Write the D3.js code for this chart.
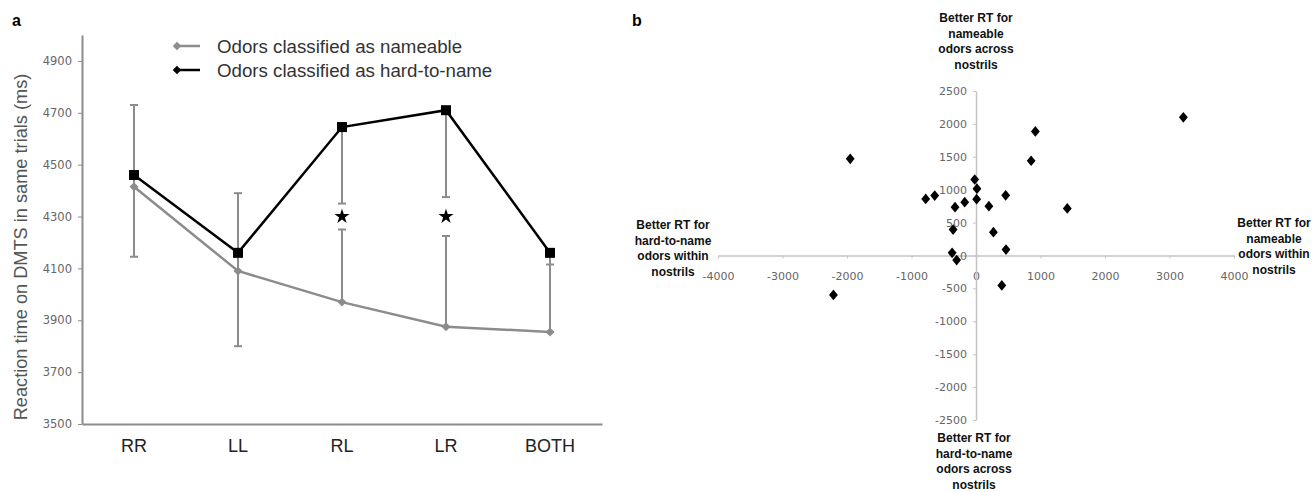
<!DOCTYPE html>
<html lang="en">
<head>
  <meta charset="UTF-8">
  <title>Reaction time chart</title>
  <style>
    body { margin: 0; background: #fff; }
    svg { display: block; font-family: "Liberation Sans", Arial, sans-serif; }
    .tick text.num { font-family: "DejaVu Sans", Verdana, sans-serif; }
  </style>
</head>
<body>
  <svg id="chart" width="1315" height="492"></svg>
  <script src="https://d3js.org/d3.v7.min.js"></script>
  <script>
    // ---- panel a data ----
    var conditions = ["RR", "LL", "RL", "LR", "BOTH"];
    var nameable = [4415, 4090, 3970, 3875, 3855];
    var nameableErr = [315, 300, 280, 350, 260];     // plus bars
    var hardToName = [4460, 4160, 4645, 4710, 4160];
    var hardToNameErr = [315, 360, 295, 335, 305];   // minus bars
    var starConditions = ["RL", "LR"];
    var starValue = 4300;
    var yTicksA = [3500, 3700, 3900, 4100, 4300, 4500, 4700, 4900];
    var legendLabels = ["Odors classified as nameable", "Odors classified as hard-to-name"];

    // ---- panel b data ----
    var withinDiff = [-1950, -2210, -780, -640, -325, -175, -355, -370, -300, -20, 15, 10,
                      200, 270, 460, 465, 400, 855, 920, 1415, 3215];
    var acrossDiff = [1470, -600, 860, 910, 735, 810, 395, 40, -70, 1155, 1015, 855,
                      750, 355, 915, 90, -455, 1440, 1885, 715, 2100];
    var xTicksB = [-4000, -3000, -2000, -1000, 0, 1000, 2000, 3000, 4000];
    var yTicksB = [-2500, -2000, -1500, -1000, -500, 0, 500, 1000, 1500, 2000, 2500];

    var svg = d3.select("#chart");
    var grey = "#8c8c8c";
    var plain = function(d) { return String(d); };   // "-500" with a hyphen, no commas
    var diamond = function(size) { return d3.symbol().type(d3.symbolSquare).size(size); };

    // =================== panel a ===================
    var x = d3.scaleBand().domain(conditions).range([82, 602]);
    var y = d3.scaleLinear().domain([3500, 5000]).range([424, 35]);
    var cx = function(c) { return x(c) + x.bandwidth() / 2; };

    var ga = svg.append("g");

    ga.append("text").attr("x", 12).attr("y", 26)
      .attr("font-size", 16).attr("font-weight", "bold").text("a");

    // y axis
    var yAxis = ga.append("g").attr("transform", "translate(82,0)")
      .call(d3.axisLeft(y).tickValues(yTicksA).tickFormat(plain).tickSize(4).tickPadding(6).tickSizeOuter(0));
    yAxis.select(".domain").attr("stroke", grey).attr("stroke-width", 2);
    yAxis.selectAll(".tick line").attr("stroke", grey);
    yAxis.selectAll(".tick text").classed("num", true)
      .attr("font-size", 11.5).attr("fill", "#666");

    // x axis
    var xAxis = ga.append("g").attr("transform", "translate(0,424)")
      .call(d3.axisBottom(x).tickSize(0).tickPadding(15));
    xAxis.select(".domain").attr("stroke", grey).attr("stroke-width", 2);
    xAxis.selectAll(".tick text").attr("font-size", 18).attr("fill", "#222")
      .attr("font-family", "'Liberation Sans', Arial, sans-serif");

    ga.append("text")
      .attr("transform", "translate(27,247) rotate(-90)")
      .attr("text-anchor", "middle").attr("font-size", 18.2).attr("fill", "#555")
      .text("Reaction time on DMTS in same trials (ms)");

    // error bars
    function errBars(vals, errs, sign) {
      var g = ga.append("g").attr("stroke", grey).attr("stroke-width", 2);
      conditions.forEach(function(c, i) {
        var end = vals[i] + sign * errs[i];
        g.append("line").attr("x1", cx(c)).attr("x2", cx(c))
          .attr("y1", y(vals[i])).attr("y2", y(end));
        g.append("line").attr("x1", cx(c) - 4).attr("x2", cx(c) + 4)
          .attr("y1", y(end)).attr("y2", y(end));
      });
    }
    errBars(nameable, nameableErr, 1);
    errBars(hardToName, hardToNameErr, -1);

    // stars
    ga.selectAll("path.star").data(starConditions).enter().append("path")
      .attr("class", "star")
      .attr("d", d3.symbol().type(d3.symbolStar).size(70))
      .attr("transform", function(c) { return "translate(" + cx(c) + "," + y(starValue) + ")"; })
      .attr("fill", "#000");

    var line = d3.line()
      .x(function(d, i) { return cx(conditions[i]); })
      .y(function(d) { return y(d); });

    ga.append("path").datum(nameable).attr("d", line)
      .attr("fill", "none").attr("stroke", grey).attr("stroke-width", 2.5);
    ga.append("path").datum(hardToName).attr("d", line)
      .attr("fill", "none").attr("stroke", "#000").attr("stroke-width", 2.5);

    ga.selectAll("path.dia").data(nameable).enter().append("path")
      .attr("class", "dia")
      .attr("d", diamond(40))
      .attr("transform", function(d, i) { return "translate(" + cx(conditions[i]) + "," + y(d) + ") rotate(45)"; })
      .attr("fill", grey);
    ga.selectAll("rect.sq").data(hardToName).enter().append("rect")
      .attr("class", "sq")
      .attr("x", function(d, i) { return cx(conditions[i]) - 5; })
      .attr("y", function(d) { return y(d) - 5; })
      .attr("width", 10).attr("height", 10).attr("fill", "#000");

    // legend
    var leg = ga.selectAll("g.leg").data(legendLabels).enter().append("g")
      .attr("class", "leg")
      .attr("transform", function(d, i) { return "translate(172," + (46 + i * 24) + ")"; });
    leg.append("line").attr("x1", 2).attr("x2", 28).attr("y1", 0).attr("y2", 0)
      .attr("stroke", function(d, i) { return i ? "#000" : grey; }).attr("stroke-width", 2.5);
    leg.append("path").attr("d", diamond(36))
      .attr("transform", "translate(5,0) rotate(45)")
      .attr("fill", function(d, i) { return i ? "#000" : grey; });
    leg.append("text").attr("x", 45).attr("y", 7)
      .attr("font-size", 18.7).attr("fill", "#333").text(function(d) { return d; });

    // =================== panel b ===================
    var xb = d3.scaleLinear().domain([-4000, 4000]).range([718, 1234]);
    var yb = d3.scaleLinear().domain([-2500, 2500]).range([420, 91]);
    var axisCol = "#c4c4c4";

    var gb = svg.append("g");
    gb.append("text").attr("x", 632).attr("y", 26)
      .attr("font-size", 16).attr("font-weight", "bold").text("b");

    var xbAxis = gb.append("g").attr("transform", "translate(0," + yb(0) + ")")
      .call(d3.axisBottom(xb).tickValues(xTicksB).tickFormat(plain).tickSize(3).tickPadding(14).tickSizeOuter(0));
    var ybAxis = gb.append("g").attr("transform", "translate(" + xb(0) + ",0)")
      .call(d3.axisLeft(yb).tickValues(yTicksB).tickFormat(plain).tickSize(3).tickPadding(6).tickSizeOuter(0));
    [xbAxis, ybAxis].forEach(function(a) {
      a.select(".domain").attr("stroke", axisCol).attr("stroke-width", 1.5);
      a.selectAll(".tick line").attr("stroke", axisCol);
      a.selectAll(".tick text").classed("num", true)
        .attr("font-size", 11).attr("fill", "#666");
    });

    gb.selectAll("path.pt").data(withinDiff).enter().append("path")
      .attr("class", "pt")
      .attr("d", diamond(46))
      .attr("transform", function(d, i) {
        return "translate(" + xb(d) + "," + yb(acrossDiff[i]) + ") scale(0.92,1.12) rotate(45)";
      })
      .attr("fill", "#000");

    var quadLabels = [
      { x: 976, y: 22, lines: ["Better RT for", "nameable", "odors across", "nostrils"] },
      { x: 974, y: 442, lines: ["Better RT for", "hard-to-name", "odors across", "nostrils"] },
      { x: 673, y: 229, lines: ["Better RT for", "hard-to-name", "odors within", "nostrils"] },
      { x: 1274, y: 227, lines: ["Better RT for", "nameable", "odors within", "nostrils"] }
    ];
    quadLabels.forEach(function(q) {
      var t = gb.append("text").attr("text-anchor", "middle")
        .attr("font-size", 12).attr("font-weight", "bold").attr("fill", "#111");
      q.lines.forEach(function(s, i) {
        t.append("tspan").attr("x", q.x).attr("y", q.y + i * 15.5).text(s);
      });
    });
  </script>
</body>
</html>
